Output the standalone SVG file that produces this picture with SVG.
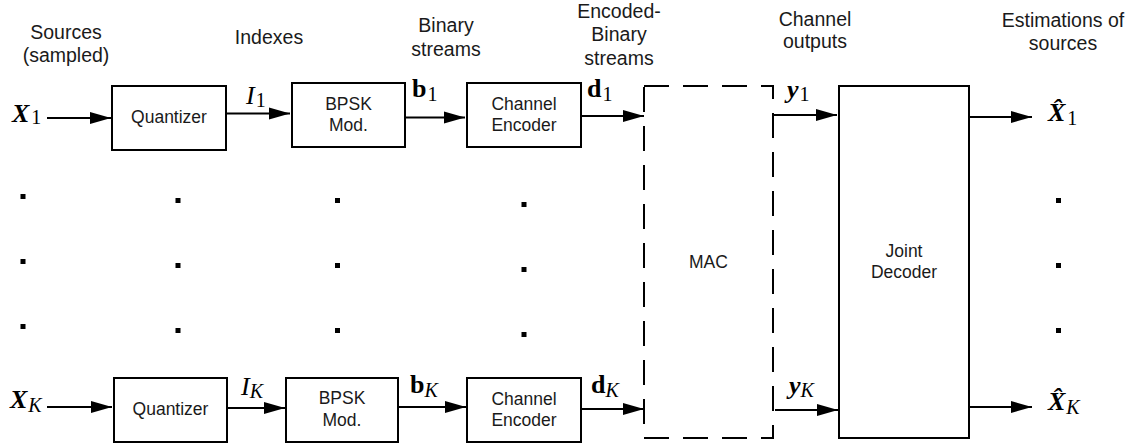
<svg xmlns="http://www.w3.org/2000/svg" width="1137" height="446" viewBox="0 0 1137 446">
  <style>
    .box { fill: #fff; stroke: #000; stroke-width: 2; }
    .mac { fill: none; stroke: #000; stroke-width: 2; stroke-dasharray: 25 14; }
    .wire { fill: none; stroke: #000; stroke-width: 2; marker-end: url(#arrow); }
    .lbl { font-family: "Liberation Sans", Arial, sans-serif; font-size: 19.5px; fill: #1a1a1a; text-anchor: middle; }
    .btxt { font-family: "Liberation Sans", Arial, sans-serif; font-size: 17.5px; fill: #1a1a1a; text-anchor: middle; }
    .math { font-family: "Liberation Serif", "Times New Roman", serif; font-size: 26px; fill: #000; }
    .sub { font-size: 20px; font-weight: normal; font-style: normal; }
    .subi { font-size: 20px; font-weight: normal; font-style: italic; }
    .dot { fill: #000; }
  </style>
  <defs>
    <marker id="arrow" markerUnits="userSpaceOnUse" markerWidth="22" markerHeight="13" refX="21" refY="6.5" orient="auto">
      <path d="M0,0.5 L21,6.5 L0,12.5 z" fill="#000"/>
    </marker>
  </defs>

  <!-- column headings -->
  <g id="headings">
    <text class="lbl" x="66" y="39">Sources</text>
    <text class="lbl" x="66" y="62">(sampled)</text>
    <text class="lbl" x="269" y="44">Indexes</text>
    <text class="lbl" x="446" y="32">Binary</text>
    <text class="lbl" x="446" y="56">streams</text>
    <text class="lbl" x="619" y="18">Encoded-</text>
    <text class="lbl" x="619" y="41">Binary</text>
    <text class="lbl" x="619" y="65">streams</text>
    <text class="lbl" x="815" y="26">Channel</text>
    <text class="lbl" x="815" y="48">outputs</text>
    <text class="lbl" x="1063" y="27">Estimations of</text>
    <text class="lbl" x="1063" y="50">sources</text>
  </g>

  <!-- first branch -->
  <g id="quantizer1">
    <rect class="box" x="112" y="86" width="114" height="64"/>
    <text class="btxt" x="169" y="123">Quantizer</text>
  </g>
  <g id="bpsk1">
    <rect class="box" x="292" y="83" width="113" height="64"/>
    <text class="btxt" x="348.5" y="110">BPSK</text>
    <text class="btxt" x="348.5" y="131">Mod.</text>
  </g>
  <g id="encoder1">
    <rect class="box" x="467" y="83" width="114" height="64"/>
    <text class="btxt" x="524" y="110">Channel</text>
    <text class="btxt" x="524" y="131">Encoder</text>
  </g>

  <!-- K-th branch -->
  <g id="quantizerK">
    <rect class="box" x="114" y="378" width="113" height="64"/>
    <text class="btxt" x="170.5" y="415">Quantizer</text>
  </g>
  <g id="bpskK">
    <rect class="box" x="286" y="378" width="112" height="64"/>
    <text class="btxt" x="342" y="404">BPSK</text>
    <text class="btxt" x="342" y="426">Mod.</text>
  </g>
  <g id="encoderK">
    <rect class="box" x="467" y="378" width="114" height="64"/>
    <text class="btxt" x="524" y="405">Channel</text>
    <text class="btxt" x="524" y="426">Encoder</text>
  </g>

  <!-- shared channel and receiver -->
  <g id="mac">
    <path class="mac" d="M644,86 H773 V438 H644 Z"/>
    <text class="btxt" x="708.5" y="268">MAC</text>
  </g>
  <g id="joint-decoder">
    <rect class="box" x="839" y="86" width="130" height="352"/>
    <text class="btxt" x="904" y="257">Joint</text>
    <text class="btxt" x="904" y="278">Decoder</text>
  </g>

  <!-- connectors -->
  <g id="connectors">
    <line class="wire" x1="47" y1="118" x2="111" y2="118"/>
    <line class="wire" x1="226" y1="113.5" x2="290" y2="113.5"/>
    <line class="wire" x1="405" y1="117.5" x2="465" y2="117.5"/>
    <line class="wire" x1="581" y1="116" x2="644" y2="116"/>
    <line class="wire" x1="773" y1="115" x2="837" y2="115"/>
    <line class="wire" x1="969" y1="117" x2="1032" y2="117"/>

    <line class="wire" x1="47" y1="407" x2="112" y2="407"/>
    <line class="wire" x1="227" y1="408" x2="285" y2="408"/>
    <line class="wire" x1="398" y1="407" x2="466" y2="407"/>
    <line class="wire" x1="581" y1="409" x2="644" y2="409"/>
    <line class="wire" x1="775" y1="410" x2="838" y2="410"/>
    <line class="wire" x1="969" y1="407" x2="1032" y2="407"/>
  </g>

  <!-- signal labels -->
  <g id="signal-labels">
    <text class="math" x="12" y="122" font-weight="bold" font-style="italic">X<tspan class="sub" dx="2" dy="2">1</tspan></text>
    <text class="math" x="246" y="104" font-style="italic">I<tspan class="sub" dx="1" dy="3">1</tspan></text>
    <text class="math" x="412" y="97" font-weight="bold">b<tspan class="sub" dx="1" dy="4">1</tspan></text>
    <text class="math" x="587" y="97" font-weight="bold">d<tspan class="sub" dx="1" dy="4">1</tspan></text>
    <text class="math" x="787" y="98" font-weight="bold" font-style="italic">y<tspan class="sub" dx="1" dy="3">1</tspan></text>
    <text class="math" x="1048" y="121" font-weight="bold" font-style="italic">X&#770;<tspan class="sub" dx="2" dy="4">1</tspan></text>

    <text class="math" x="10" y="408" font-weight="bold" font-style="italic">X<tspan class="subi" dx="1" dy="4">K</tspan></text>
    <text class="math" x="241" y="395" font-style="italic">I<tspan class="subi" dx="0" dy="3">K</tspan></text>
    <text class="math" x="410" y="393" font-weight="bold">b<tspan class="subi" dx="0" dy="4">K</tspan></text>
    <text class="math" x="591" y="393" font-weight="bold">d<tspan class="subi" dx="0" dy="4">K</tspan></text>
    <text class="math" x="789" y="394" font-weight="bold" font-style="italic">y<tspan class="subi" dx="0" dy="3">K</tspan></text>
    <text class="math" x="1048" y="410" font-weight="bold" font-style="italic">X&#770;<tspan class="subi" dx="1" dy="4">K</tspan></text>
  </g>

  <!-- vertical ellipsis dots -->
  <g id="ellipsis">
    <rect class="dot" x="20.5" y="194" width="5" height="5"/>
    <rect class="dot" x="20.5" y="259" width="5" height="5"/>
    <rect class="dot" x="20.5" y="324" width="5" height="5"/>
    <rect class="dot" x="175.5" y="198" width="5" height="5"/>
    <rect class="dot" x="175.5" y="263" width="5" height="5"/>
    <rect class="dot" x="175.5" y="328" width="5" height="5"/>
    <rect class="dot" x="335" y="198" width="5" height="5"/>
    <rect class="dot" x="335" y="263" width="5" height="5"/>
    <rect class="dot" x="335" y="328" width="5" height="5"/>
    <rect class="dot" x="521.5" y="202" width="5" height="5"/>
    <rect class="dot" x="521.5" y="267" width="5" height="5"/>
    <rect class="dot" x="521.5" y="332" width="5" height="5"/>
    <rect class="dot" x="1056" y="198" width="5" height="5"/>
    <rect class="dot" x="1056" y="263" width="5" height="5"/>
    <rect class="dot" x="1056" y="328" width="5" height="5"/>
  </g>
</svg>
